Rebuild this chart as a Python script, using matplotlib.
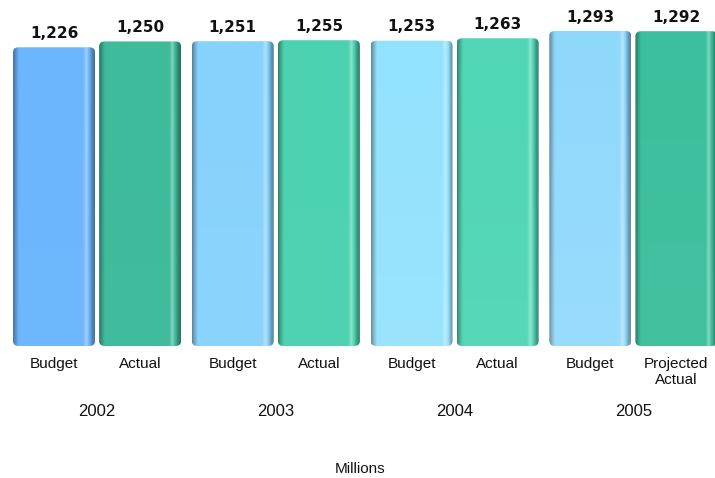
import numpy as np
import matplotlib
matplotlib.use("Agg")
import matplotlib.pyplot as plt
from matplotlib.patches import FancyBboxPatch
from matplotlib.colors import to_rgb

# ---- data ----
years = ["2002", "2003", "2004", "2005"]
bar_labels = ["Budget", "Actual", "Budget", "Actual",
              "Budget", "Actual", "Budget", "Projected\nActual"]
values = [1226, 1250, 1251, 1255, 1253, 1263, 1293, 1292]

# ---- styles ----
colors = ["#6cb6fd", "#3dbb9b", "#86d2fc", "#4cd2b0",
          "#93e2fd", "#50d6b4", "#8ed8fc", "#3cbf9c"]
bottom_light = [0.02, 0.02, 0.04, 0.02, 0.06, 0.04, 0.10, 0.03]

fig = plt.figure(figsize=(7.15, 4.78), dpi=100)
ax = fig.add_axes([0, 132 / 478, 1, 346 / 478])
ax.set_axis_off()

pitch, off, width = 2.18, 0.525, 1.0
xpos = []
for g in range(len(years)):
    xpos += [g * pitch - off, g * pitch + off]
xpos = np.array(xpos)

bars = ax.bar(xpos, values, width=width, color="none", edgecolor="none")
ax.set_xlim(-1.184, -1.184 + 715 / 82)
ax.set_ylim(0, 1420)

# horizontal shading profile (fraction across the bar -> brightness factor)
prof_x = np.array([0.0, 0.03, 0.07, 0.5, 0.86, 0.90, 0.94, 0.97, 1.0])
prof_f = np.array([0.62, 0.80, 1.00, 1.00, 1.00, 1.12, 0.95, 0.72, 0.62])

nx, ny = 120, 60
for rect, col, bl in zip(bars, colors, bottom_light):
    x0, w, h = rect.get_x(), rect.get_width(), rect.get_height()
    base = np.array(to_rgb(col))
    u = np.linspace(0, 1, nx)
    fx = np.interp(u, prof_x, prof_f)
    v = np.linspace(0, 1, ny)[:, None, None]  # 0 top -> 1 bottom
    img = base[None, None, :] * fx[None, :, None]
    img = np.where(fx[None, :, None] > 1, base + (1 - base) * (fx[None, :, None] - 1) * 3, img)
    img = img + (1 - img) * bl * v
    img = np.clip(img, 0, 1)
    patch = FancyBboxPatch((x0, 0), w, h,
                           boxstyle="round,pad=0,rounding_size=0.07",
                           mutation_aspect=290,
                           facecolor="none", edgecolor="none")
    ax.add_patch(patch)
    im = ax.imshow(img, extent=(x0, x0 + w, 0, h), aspect="auto",
                   origin="upper", interpolation="bilinear", zorder=2)
    im.set_clip_path(patch)

ax.bar_label(bars, labels=[f"{v:,}" for v in values], padding=4.5,
             fontsize=11, fontweight="bold", family="DejaVu Sans",
             color="#111111")

txt_kw = dict(xycoords=("data", "axes fraction"), textcoords="offset points",
              ha="center", family="Liberation Sans", color="#111111",
              annotation_clip=False)
for x, lab in zip(xpos, bar_labels):
    ax.annotate(lab, xy=(x, 0), xytext=(0, -8), va="top",
                fontsize=11, linespacing=1.2, **txt_kw)
for g, yr in enumerate(years):
    ax.annotate(yr, xy=(g * pitch, 0), xytext=(0, -65 * 0.72), va="center",
                fontsize=12, **txt_kw)
ax.annotate("Millions", xy=(0.503, 0), xycoords="axes fraction",
            xytext=(0, -123 * 0.72), textcoords="offset points",
            ha="center", va="center", fontsize=11, family="Liberation Sans",
            color="#111111", annotation_clip=False)

fig.savefig("out.png", dpi=100)
